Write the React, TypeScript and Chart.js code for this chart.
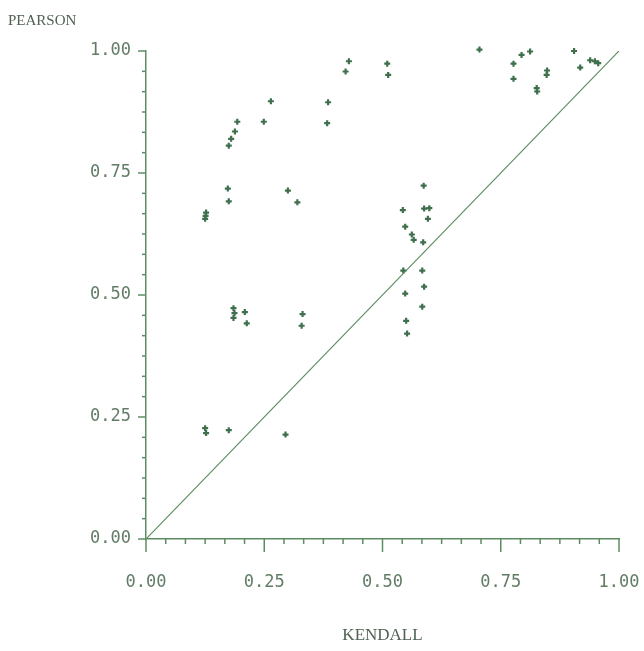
import React, { useEffect, useRef } from "react";
import { Chart, registerables } from "chart.js";

Chart.register(...registerables);

// KENDALL (x) vs PEARSON (y) correlation pairs
const kendall: number[] = [
  0.264, 0.193, 0.249, 0.188, 0.180, 0.175, 0.173, 0.175, 0.300, 0.320,
  0.127, 0.125, 0.126, 0.429, 0.422, 0.510, 0.512, 0.385, 0.383, 0.705,
  0.777, 0.794, 0.812, 0.777, 0.848, 0.847, 0.826, 0.827, 0.905, 0.918,
  0.939, 0.949, 0.956, 0.587, 0.543, 0.588, 0.599, 0.596, 0.548, 0.562,
  0.566, 0.586, 0.544, 0.584, 0.588, 0.548, 0.584, 0.550, 0.552, 0.331,
  0.329, 0.185, 0.187, 0.185, 0.209, 0.213, 0.125, 0.127, 0.175, 0.295,
];
const pearson: number[] = [
  0.897, 0.855, 0.855, 0.835, 0.820, 0.806, 0.718, 0.692, 0.714, 0.690,
  0.669, 0.656, 0.662, 0.979, 0.958, 0.974, 0.951, 0.895, 0.852, 1.003,
  0.974, 0.992, 0.999, 0.943, 0.960, 0.951, 0.924, 0.917, 1.000, 0.966,
  0.981, 0.979, 0.975, 0.724, 0.674, 0.677, 0.678, 0.656, 0.640, 0.624,
  0.613, 0.608, 0.550, 0.550, 0.517, 0.503, 0.476, 0.447, 0.421, 0.461,
  0.437, 0.473, 0.463, 0.453, 0.465, 0.442, 0.227, 0.217, 0.223, 0.214,
];
const diagonalX: number[] = [0, 1];
const diagonalY: number[] = [0, 1];
const tickValues: number[] = [0, 0.25, 0.5, 0.75, 1];
const minorDivisions = 24;
const xTitle = "KENDALL";
const yTitle = "PEARSON";

const AXIS = "#5e8c62";
const POINT = "#3f6f4d";
const TEXT = "#627c66";
const TITLE = "#4f6252";

const customTicks = {
  id: "customTicks",
  afterDraw(chart: any) {
    const { ctx, scales } = chart;
    const xs = scales.x;
    const ys = scales.y;
    ctx.save();
    ctx.strokeStyle = AXIS;
    ctx.lineWidth = 1.5;
    for (let i = 0; i <= minorDivisions; i++) {
      const v = i / minorDivisions;
      const major = i % 6 === 0;
      const px = xs.getPixelForValue(v);
      const bottom = ys.getPixelForValue(0);
      ctx.beginPath();
      ctx.moveTo(px, bottom);
      ctx.lineTo(px, bottom + (major ? 13 : 5));
      ctx.stroke();
      const py = ys.getPixelForValue(v);
      const left = xs.getPixelForValue(0);
      ctx.beginPath();
      ctx.moveTo(left, py);
      ctx.lineTo(left - (major ? 8 : 4), py);
      ctx.stroke();
    }
    ctx.fillStyle = TITLE;
    ctx.font = "15px 'Liberation Serif'";
    ctx.textAlign = "left";
    ctx.textBaseline = "middle";
    ctx.fillText(yTitle, 8, 21);
    ctx.restore();
  },
};

export default function App() {
  const ref = useRef<HTMLCanvasElement | null>(null);
  useEffect(() => {
    if (!ref.current) return;
    const points = kendall.map((k, i) => ({ x: k, y: pearson[i] }));
    const diag = diagonalX.map((x, i) => ({ x, y: diagonalY[i] }));
    const chart = new Chart(ref.current, {
      type: "scatter",
      data: {
        datasets: [
          {
            type: "line",
            data: diag,
            borderColor: AXIS,
            borderWidth: 1.2,
            pointRadius: 0,
            fill: false,
          } as any,
          {
            data: points,
            pointStyle: "cross",
            radius: 3,
            borderWidth: 2.2,
            borderColor: POINT,
            backgroundColor: POINT,
            clip: false,
          } as any,
        ],
      },
      options: {
        animation: false,
        responsive: false,
        maintainAspectRatio: false,
        layout: { padding: { top: 51, right: 25, left: 0, bottom: 0 } },
        plugins: { legend: { display: false }, tooltip: { enabled: false } },
        scales: {
          x: {
            type: "linear",
            min: 0,
            max: 1,
            afterFit: (s: any) => {
              s.height = 112;
              s.paddingLeft = 0;
              s.paddingRight = 0;
            },
            afterBuildTicks: (s: any) => {
              s.ticks = tickValues.map((v) => ({ value: v }));
            },
            ticks: {
              callback: (v: any) => Number(v).toFixed(2),
              font: { family: "'DejaVu Sans Mono'", size: 17 },
              color: TEXT,
              padding: 33,
              maxRotation: 0,
            },
            grid: { drawOnChartArea: false, drawTicks: false },
            border: { color: AXIS, width: 1.5 },
            title: {
              display: true,
              text: xTitle,
              font: { family: "'Liberation Serif'", size: 17 },
              color: TITLE,
              padding: { top: 0, bottom: 5 },
            },
          },
          y: {
            type: "linear",
            min: 0,
            max: 1,
            afterFit: (s: any) => {
              s.width = 146;
              s.paddingTop = 0;
              s.paddingBottom = 0;
            },
            afterBuildTicks: (s: any) => {
              s.ticks = tickValues.map((v) => ({ value: v }));
            },
            ticks: {
              callback: (v: any) => Number(v).toFixed(2),
              font: { family: "'DejaVu Sans Mono'", size: 17 },
              color: TEXT,
              padding: 15,
            },
            grid: { drawOnChartArea: false, drawTicks: false },
            border: { color: AXIS, width: 1.5 },
          },
        },
      },
      plugins: [customTicks],
    });
    return () => chart.destroy();
  }, []);
  return (
    <div style={{ position: "fixed", left: 0, top: 0, width: 644, height: 651, background: "#fff" }}>
      <canvas ref={ref} width={644} height={651} style={{ display: "block" }} />
    </div>
  );
}
